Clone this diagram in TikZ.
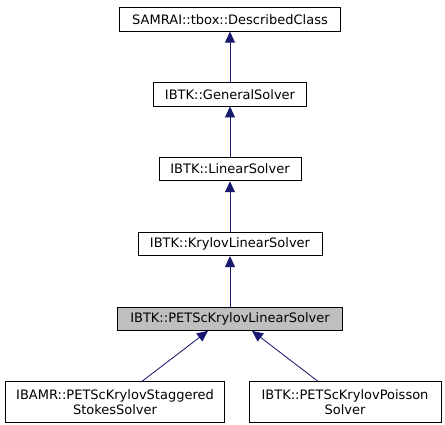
\documentclass[tikz,border=0pt]{standalone}
\usepackage{fontspec}
\setmainfont{DejaVu Sans}
\usepackage{tikz}
\usetikzlibrary{arrows.meta}
\usetikzlibrary{positioning}
\definecolor{edgeblue}{HTML}{191970}
\definecolor{boxgray}{HTML}{BFBFBF}
\tikzstyle{cls} = [draw, fill=white,
	line width=0.8pt,
	minimum height=23.5pt,
	inner sep=0pt,
	align=center,
	font=\fontsize{13}{15.5}\selectfont]
\tikzstyle{cur} = [cls, fill=boxgray]
\tikzstyle{inh} = [-{Triangle[length=11pt, width=10pt]}, draw=edgeblue, fill=edgeblue, line width=0.8pt]

\begin{document}
\begin{tikzpicture}[x=1pt, y=-1pt]
	\useasboundingbox (0,0) rectangle (445,425);
	\node (described) [cls, minimum width=221pt] at (230,19.5) {SAMRAI::tbox::DescribedClass};
	\node (general) [cls, minimum width=153pt, below=50.5pt] at (described.south) {IBTK::GeneralSolver};
	\node (linear) [cls, minimum width=142pt, below=50.5pt] at (general.south) {IBTK::LinearSolver};
	\node (krylov) [cls, minimum width=184pt, below=50.5pt] at (linear.south) {IBTK::KrylovLinearSolver};
	\node (petsc) [cur, minimum width=225pt, below=50.5pt] at (krylov.south) {IBTK::PETScKrylovLinearSolver};
	
	\node (stokes) [cls, minimum width=219pt, minimum height=41pt, below=50.5pt] at ([xshift=-115pt]petsc.south) {IBAMR::PETScKrylovStaggered\\StokesSolver};
	\node (poisson) [cls, minimum width=192pt, minimum height=41pt, below=50.5pt] at ([xshift=115pt]petsc.south) {IBTK::PETScKrylovPoisson\\Solver};
	
	\draw [inh] (general) -- (described);
	\draw [inh] (linear) -- (general);
	\draw [inh] (krylov) -- (linear);
	\draw [inh] (petsc) -- (krylov);
	\draw [inh] ([xshift=27pt]stokes.north) -- ([xshift=-22pt]petsc.south);
	\draw [inh] ([xshift=-27pt]poisson.north) -- ([xshift=22pt]petsc.south);
\end{tikzpicture}
\end{document}
